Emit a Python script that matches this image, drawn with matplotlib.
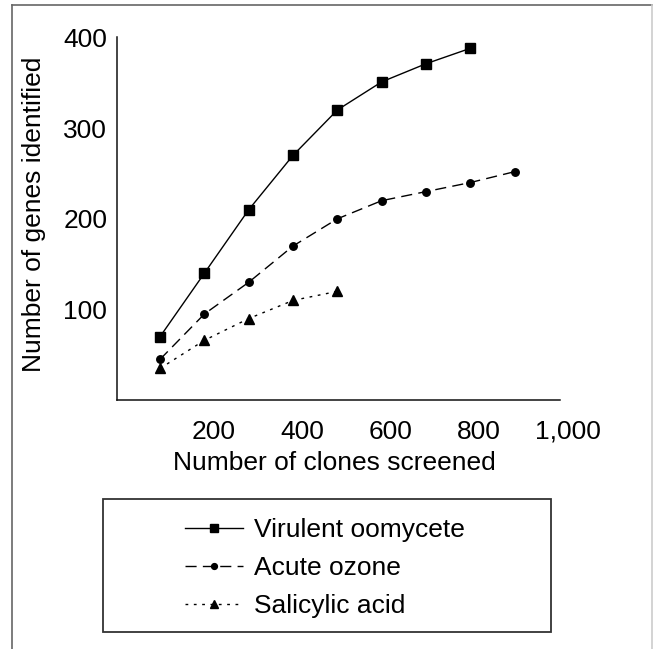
import matplotlib
matplotlib.use('Agg')
import matplotlib.pyplot as plt
from matplotlib.lines import Line2D
from matplotlib.patches import Rectangle

# ---- data ----
clones_virulent = [80, 180, 280, 380, 480, 580, 680, 780]
genes_virulent = [70, 140, 210, 270, 320, 351, 371, 388]
clones_ozone = [80, 180, 280, 380, 480, 580, 680, 780, 880]
genes_ozone = [45, 95, 130, 170, 200, 220, 230, 240, 252]
clones_salicylic = [80, 180, 280, 380, 480]
genes_salicylic = [35, 66, 90, 110, 120]
series_names = ['Virulent oomycete', 'Acute ozone', 'Salicylic acid']
x_ticks = [200, 400, 600, 800, 1000]
x_tick_labels = ['200', '400', '600', '800', '1,000']
y_ticks = [100, 200, 300, 400]
y_tick_labels = ['100', '200', '300', '400']

plt.rcParams['font.family'] = ['Liberation Sans', 'DejaVu Sans']
FS = 19

W, H = 653, 649
fig = plt.figure(figsize=(W / 100, H / 100), dpi=100)

# axes placement (pixel geometry)
ax_left, ax_right, ax_bottom, ax_top = 117, 594.6, 400.2, 37.4
ax = fig.add_axes([ax_left / W, 1 - ax_bottom / H, (ax_right - ax_left) / W, (ax_bottom - ax_top) / H])
ax.set_xlim(-17, 1060)
ax.set_ylim(0, 400)

lw = 1.0
dash_oz = (0, (8, 4.5))
dot_sa = (0, (2, 4))
ax.plot(clones_virulent, genes_virulent, color='black', lw=lw, ls='-', marker='s', ms=7.2, clip_on=False)
ax.plot(clones_ozone, genes_ozone, color='black', lw=lw, ls=dash_oz, marker='o', ms=5.4, clip_on=False)
ax.plot(clones_salicylic, genes_salicylic, color='black', lw=lw, ls=dot_sa, marker='^', ms=7.2, clip_on=False)

for s in ['top', 'right']:
    ax.spines[s].set_visible(False)
ax.spines['bottom'].set_bounds(-17, 981)
ax.spines['left'].set_bounds(0, 400)
for s in ['bottom', 'left']:
    ax.spines[s].set_linewidth(1.1)
    ax.spines[s].set_color('#111111')

ax.set_xticks(x_ticks)
ax.set_xticklabels(x_tick_labels)
ax.set_yticks(y_ticks)
ax.set_yticklabels(y_tick_labels)
ax.tick_params(axis='x', length=0, pad=14, labelsize=FS)
ax.tick_params(axis='y', length=0, pad=7, labelsize=FS)

ax.set_xlabel('Number of clones screened', fontsize=FS)
ax.xaxis.label.set_va('center')
ax.xaxis.set_label_coords((334.5 - ax_left) / (ax_right - ax_left), (ax_bottom - 463) / (ax_bottom - ax_top))
ax.set_ylabel('Number of genes identified', fontsize=FS)
ax.yaxis.label.set_va('center')
ax.yaxis.set_label_coords((34 - ax_left) / (ax_right - ax_left), (ax_bottom - 214) / (ax_bottom - ax_top))

# outer frame
fig.add_artist(Line2D([12 / W, 12 / W], [0, 1 - 5 / H], color='#666666', lw=1.2))
fig.add_artist(Line2D([12 / W, 652 / W], [1 - 5 / H, 1 - 5 / H], color='#666666', lw=1.2))
fig.add_artist(Line2D([652 / W, 652 / W], [0, 1 - 5 / H], color='#cccccc', lw=1.2))

# legend box
fig.add_artist(Rectangle((103 / W, 1 - 632 / H), (551 - 103) / W, (632 - 499) / H,
                         facecolor='white', edgecolor='#333333', lw=1.3))

handles = [
    Line2D([], [], color='black', lw=lw, ls='-', marker='s', ms=5.5),
    Line2D([], [], color='black', lw=lw, ls=dash_oz, marker='o', ms=4.2),
    Line2D([], [], color='black', lw=lw, ls=dot_sa, marker='^', ms=5.5),
]
leg = fig.legend(handles, series_names, loc='upper left', bbox_to_anchor=(185 / W, 1 - 518.5 / H),
                 frameon=False, fontsize=FS, handlelength=2.2, handletextpad=0.42,
                 labelspacing=0.53, borderpad=0, borderaxespad=0)

fig.savefig('out.png', dpi=100)
